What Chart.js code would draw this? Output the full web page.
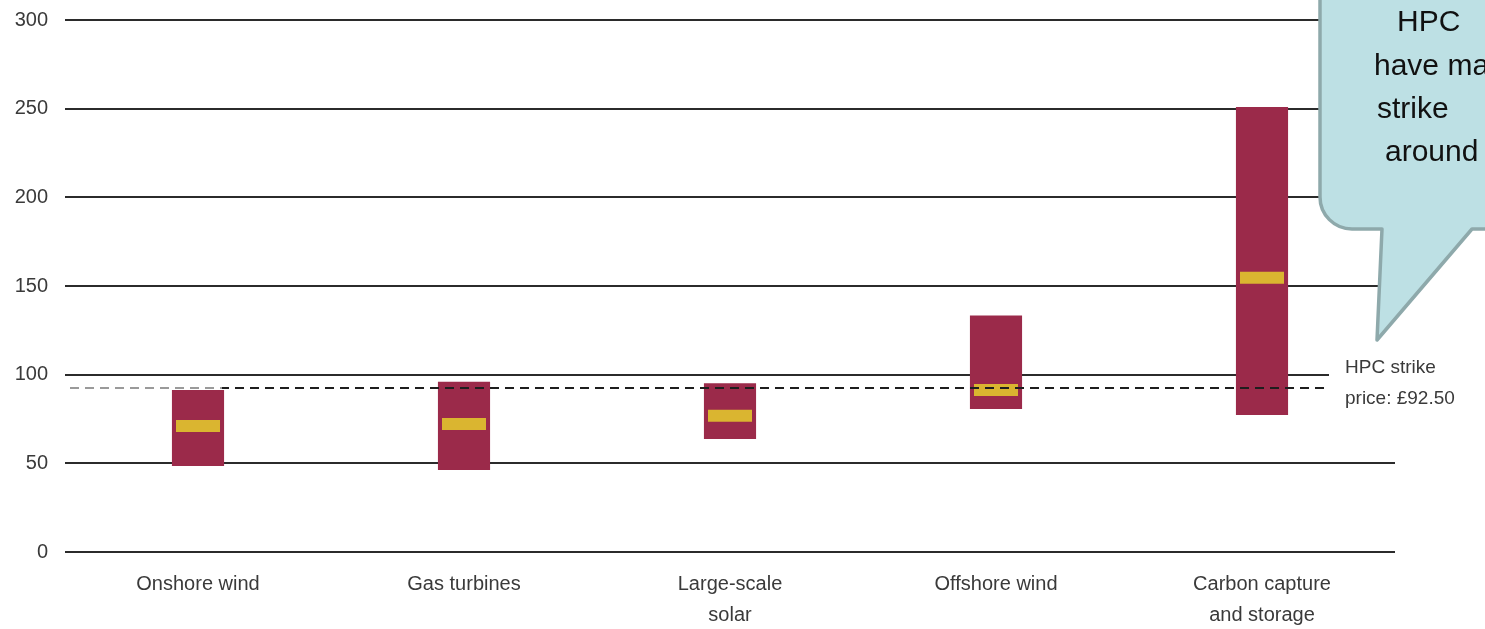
<!DOCTYPE html>
<html>
<head>
<meta charset="utf-8">
<script src="https://cdn.jsdelivr.net/npm/chart.js@4.4.0/dist/chart.umd.min.js"></script>
<style>
  html, body { margin: 0; padding: 0; background: #fff; }
  #wrap { width: 1485px; height: 629px; position: relative; }
</style>
</head>
<body>
<div id="wrap"><canvas id="costChart"></canvas></div>
<script>
// ---- Data ----
const categories = [['Onshore wind'], ['Gas turbines'], ['Large-scale', 'solar'], ['Offshore wind'], ['Carbon capture', 'and storage']];
const lowValues = [48.5, 46.2, 63.7, 80.6, 77.3];
const highValues = [91.4, 96.0, 95.1, 133.3, 251];
const midValues = [71, 72.2, 76.9, 91.4, 154.7];
const yTicks = [0, 50, 100, 150, 200, 250, 300];
const strikePrice = 92.5;
const strikeLabel = ['HPC strike', 'price: £92.50'];
const calloutLines = ['HPC', 'have made', 'strike', 'around'];

const MAROON = '#9b2a4a';
const YELLOW = '#dab530';
const FONT = "'Liberation Sans', Arial, sans-serif";

// Strike price line, its label and the speech bubble
const overlay = {
    id: 'overlay',
    afterDatasetsDraw(chart) {
        const { ctx, chartArea, scales: { y } } = chart;
        const yp = y.getPixelForValue(strikePrice);
        const lineEnd = 1328;

        ctx.save();
        // clear the 100 gridline behind the label
        ctx.fillStyle = '#fff';
        ctx.fillRect(lineEnd + 1, y.getPixelForValue(100) - 3, chartArea.right - lineEnd + 10, 6);

        ctx.lineWidth = 2;
        ctx.setLineDash([9, 6]);
        // grey part on the left, dark after
        [[0, 222, '#9a9a9a'], [222, lineEnd, '#1e1e1e']].forEach(([a, b, col]) => {
            ctx.save();
            ctx.beginPath();
            ctx.rect(a, 0, b - a, chart.height);
            ctx.clip();
            ctx.strokeStyle = col;
            ctx.beginPath();
            ctx.moveTo(chartArea.left + 5, yp);
            ctx.lineTo(lineEnd, yp);
            ctx.stroke();
            ctx.restore();
        });
        ctx.setLineDash([]);

        ctx.fillStyle = '#3a3a3a';
        ctx.font = '19px ' + FONT;
        ctx.textBaseline = 'middle';
        ctx.textAlign = 'left';
        strikeLabel.forEach((t, i) => ctx.fillText(t, 1345, yp - 20 + i * 31));
        ctx.restore();
    },
    afterDraw(chart) {
        const ctx = chart.ctx;
        const left = 1320, bottom = 229, r = 32;
        ctx.save();
        ctx.beginPath();
        ctx.moveTo(left, -20);
        ctx.lineTo(left, bottom - r);
        ctx.arcTo(left, bottom, left + r, bottom, r);
        ctx.lineTo(1382, bottom);
        ctx.lineTo(1377, 340);
        ctx.lineTo(1472, bottom);
        ctx.lineTo(1600, bottom);
        ctx.lineTo(1600, -20);
        ctx.closePath();
        ctx.fillStyle = '#bde0e4';
        ctx.fill();
        ctx.lineWidth = 3.5;
        ctx.lineJoin = 'round';
        ctx.strokeStyle = '#8ea9ab';
        ctx.stroke();

        ctx.fillStyle = '#111';
        ctx.font = '30px ' + FONT;
        ctx.textBaseline = 'middle';
        ctx.textAlign = 'left';
        const xs = [1397, 1374, 1377, 1385];
        calloutLines.forEach((t, i) => ctx.fillText(t, xs[i], 23 + i * 43.3));
        ctx.restore();
    }
};

new Chart(document.getElementById('costChart'), {
    data: {
        labels: categories,
        datasets: [
            {
                type: 'line',
                data: midValues,
                showLine: false,
                pointStyle: 'line',
                pointRadius: 22,
                pointHoverRadius: 22,
                pointBorderWidth: 12,
                pointHoverBorderWidth: 12,
                pointBorderColor: YELLOW,
                borderColor: YELLOW,
                order: 0
            },
            {
                type: 'bar',
                data: lowValues.map((v, i) => [v, highValues[i]]),
                backgroundColor: MAROON,
                borderWidth: 0,
                categoryPercentage: 1,
                barPercentage: 0.196,
                order: 1
            }
        ]
    },
    options: {
        responsive: true,
        maintainAspectRatio: false,
        animation: false,
        events: [],
        layout: { autoPadding: false, padding: { top: 20, right: 90, bottom: 0, left: 0 } },
        plugins: { legend: { display: false }, tooltip: { enabled: false } },
        scales: {
            x: {
                offset: true,
                grid: { display: false, drawTicks: false },
                border: { display: false },
                ticks: {
                    padding: 17,
                    color: '#3a3a3a',
                    font: { family: FONT, size: 20, lineHeight: 1.55 },
                    maxRotation: 0
                },
                afterFit(scale) { scale.height = 77; }
            },
            y: {
                min: 0,
                max: 300,
                afterBuildTicks(scale) { scale.ticks = yTicks.map(v => ({ value: v })); },
                grid: { color: '#2b2b2b', lineWidth: 2, drawTicks: false },
                border: { display: false },
                ticks: {
                    padding: 17,
                    color: '#3a3a3a',
                    font: { family: FONT, size: 20 }
                },
                afterFit(scale) {
                    scale.width = 65;
                    // tick padding would otherwise push the plot down
                    scale.paddingTop = 0;
                    scale.paddingBottom = 0;
                }
            }
        }
    },
    plugins: [overlay]
});
</script>
</body>
</html>
